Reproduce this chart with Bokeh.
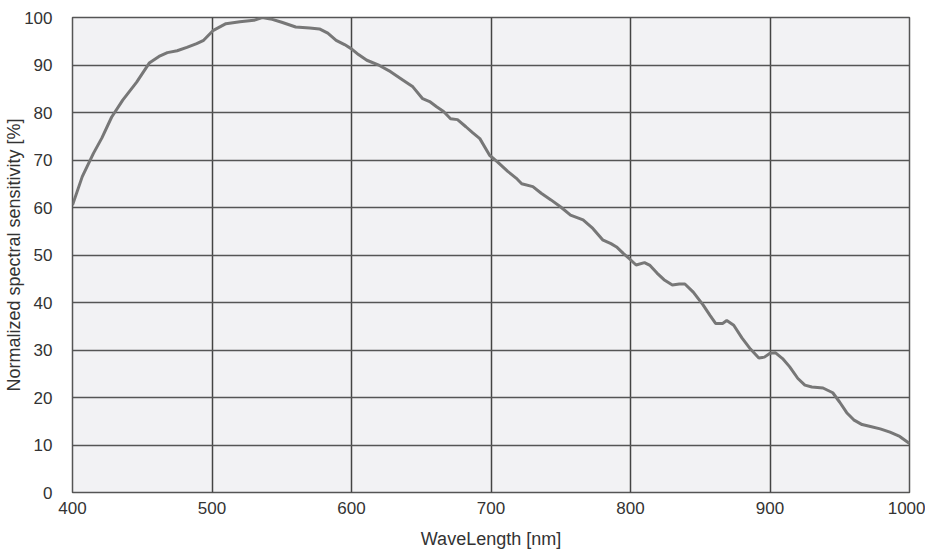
from bokeh.plotting import figure
from bokeh.models import Range1d, FixedTicker
from bokeh.embed import file_html
from bokeh.resources import INLINE

wavelength = [400, 407, 415, 421, 428, 436, 446, 455, 462, 468, 475, 482, 489, 494, 501,
              510, 520, 530, 536, 542, 550, 560, 570, 577, 583, 589, 595, 600, 605, 611,
              620, 628, 637, 644, 651, 656, 661, 666, 671, 676, 682, 687, 692, 699, 705,
              712, 718, 722, 730, 736, 743, 750, 757, 766, 773, 780, 786, 790, 795, 800,
              804, 810, 814, 819, 824, 830, 835, 839, 845, 852, 857, 861, 866, 869, 874,
              880, 886, 892, 896, 900, 904, 909, 914, 920, 925, 930, 938, 945, 950, 955,
              960, 966, 972, 979, 986, 993, 1000]
sensitivity = [60.5, 66.5, 71.4, 74.6, 79.0, 82.6, 86.4, 90.4, 91.8, 92.6, 93.0, 93.7, 94.5, 95.2, 97.3,
               98.7, 99.1, 99.4, 100.0, 99.7, 99.0, 98.0, 97.8, 97.6, 96.7, 95.2, 94.3, 93.4, 92.2, 91.0,
               89.9, 88.6, 86.8, 85.4, 82.9, 82.3, 81.2, 80.2, 78.7, 78.5, 77.0, 75.7, 74.5, 71.0, 69.5,
               67.6, 66.2, 65.0, 64.4, 63.0, 61.6, 60.1, 58.4, 57.4, 55.6, 53.2, 52.4, 51.7, 50.3, 49.0,
               47.9, 48.4, 47.8, 46.2, 44.8, 43.7, 43.9, 43.9, 42.2, 39.5, 37.3, 35.6, 35.6, 36.2, 35.2,
               32.5, 30.2, 28.3, 28.5, 29.3, 29.4, 28.2, 26.5, 24.0, 22.6, 22.2, 22.0, 21.0, 19.0, 16.8,
               15.3, 14.3, 13.9, 13.4, 12.7, 11.8, 10.3]

x_ticks = [400, 500, 600, 700, 800, 900, 1000]
y_ticks = [0, 10, 20, 30, 40, 50, 60, 70, 80, 90, 100]

p = figure(width=925, height=551, output_backend="svg", toolbar_location=None,
           x_range=Range1d(400, 1000), y_range=Range1d(0, 100),
           min_border_left=72, min_border_right=16, min_border_top=17, min_border_bottom=55)

p.background_fill_color = "#f2f2f4"
p.border_fill_color = "white"
p.outline_line_color = "#555555"
p.outline_line_width = 1.5

p.xaxis.ticker = FixedTicker(ticks=x_ticks)
p.yaxis.ticker = FixedTicker(ticks=y_ticks)

for ax in (p.xaxis[0], p.yaxis[0]):
    ax.axis_line_color = None
    ax.major_tick_line_color = None
    ax.minor_tick_line_color = None
    ax.major_label_text_font = "Liberation Sans"
    ax.major_label_text_font_size = "17px"
    ax.major_label_text_color = "#333333"
    ax.axis_label_text_font = "Liberation Sans"
    ax.axis_label_text_font_style = "normal"
    ax.axis_label_text_color = "#333333"
    ax.axis_label_text_font_size = "18px"

p.xaxis.axis_label = "WaveLength [nm]"
p.xaxis.major_label_standoff = 3
p.xaxis.axis_label_standoff = 12

p.yaxis.axis_label = "Normalized spectral sensitivity [%]"
p.yaxis.major_label_standoff = 14
p.yaxis.axis_label_standoff = -3

p.xgrid.grid_line_color = "#444444"
p.xgrid.grid_line_width = 1.5
p.xgrid.grid_line_alpha = 1.0
p.ygrid.grid_line_color = "#555555"
p.ygrid.grid_line_width = 1.3
p.ygrid.grid_line_alpha = 1.0

p.line(wavelength, sensitivity, line_color="#777777", line_width=3)

open("out.html", "w").write(file_html(p, INLINE))
